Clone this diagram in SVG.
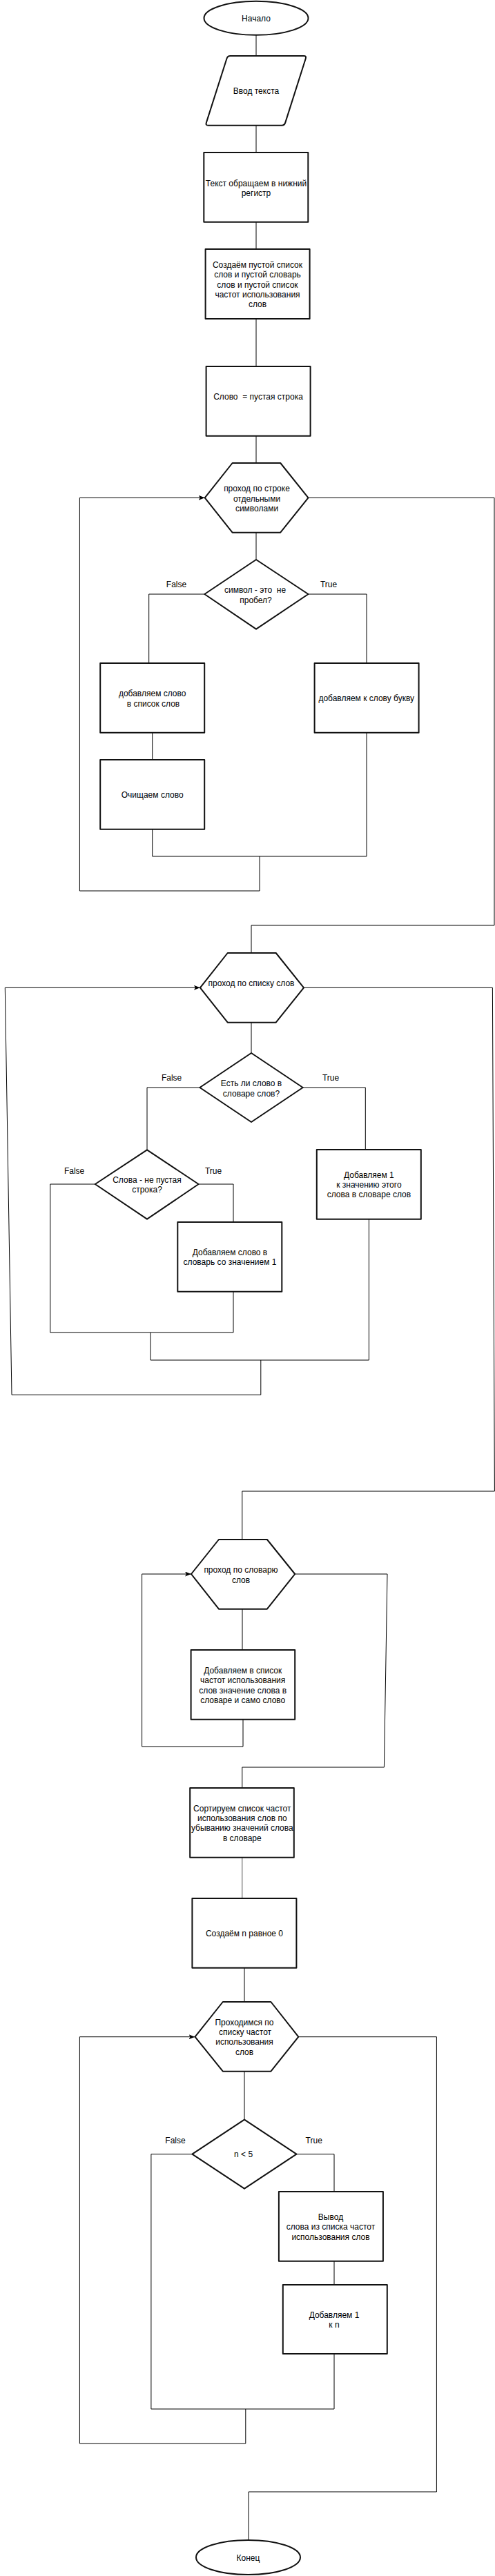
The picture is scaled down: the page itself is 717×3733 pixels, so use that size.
<svg xmlns="http://www.w3.org/2000/svg" width="717" height="3733" viewBox="0 0 717 3733">
<defs>
<style>
.s{fill:#fff;stroke:#111;stroke-width:2;stroke-linejoin:round}
.c{fill:none;stroke:#000;stroke-width:1}
.t{font-family:"Liberation Sans",Arial,sans-serif;font-size:12px;fill:#000;text-anchor:middle;white-space:pre}
</style>
<marker id="ar" markerUnits="userSpaceOnUse" markerWidth="10" markerHeight="8" refX="9" refY="3.5" orient="auto">
<path d="M0,0 L9,3.5 L0,7 L2,3.5 Z" fill="#000"/>
</marker>
</defs>
<rect width="717" height="3733" fill="#fff"/>
<g id="connectors">
<path class="c" d="M371,51 V81"/>
<path class="c" d="M371,181.7 V221"/>
<path class="c" d="M371,321.7 V361"/>
<path class="c" d="M371,462 V531"/>
<path class="c" d="M371,631.7 V671"/>
<path class="c" d="M371,771.7 V811"/>
<path class="c" d="M296.3,861 H215.7 V961"/>
<path class="c" d="M446.5,861 H531 V961"/>
<path class="c" d="M220.7,1061.7 V1101"/>
<path class="c" d="M220.7,1201.7 V1241 H531 V1061.7"/>
<path class="c" d="M376,1241 V1291 H115.4 V721.3 H296.7" marker-end="url(#ar)"/>
<path class="c" d="M446.5,721.3 H716 V1341 H364 V1381"/>
<path class="c" d="M364,1481.7 V1526"/>
<path class="c" d="M289.4,1576 H213 V1666.3"/>
<path class="c" d="M438.7,1576 H529.3 V1666"/>
<path class="c" d="M137.8,1716 H72.8 V1931 H338 V1871.7"/>
<path class="c" d="M287.6,1716 H338 V1771"/>
<path class="c" d="M218,1931 V1971 H534.4 V1766.7"/>
<path class="c" d="M377.8,1971 V2021.3 H17 L7.3,1431.3 H289.9" marker-end="url(#ar)"/>
<path class="c" d="M440,1431.3 H713.4 L716.4,2161 H350.8 V2231"/>
<path class="c" d="M351,2331.7 V2391"/>
<path class="c" d="M352,2491.7 V2531 H205.6 V2281 H277" marker-end="url(#ar)"/>
<path class="c" d="M427.2,2281 H561 L556.4,2561 H350.8 V2591"/>
<path class="c" d="M350.8,2691.7 V2751" style="stroke:#555"/>
<path class="c" d="M354,2851.7 V2901"/>
<path class="c" d="M354,3001.7 V3071.7"/>
<path class="c" d="M278.4,3121.7 H218.9 V3491 H484 V3411"/>
<path class="c" d="M429.5,3121.7 H484 V3176"/>
<path class="c" d="M484,3276.7 V3311"/>
<path class="c" d="M355.8,3491 V3541 H115.4 V2951.7 H282.5" marker-end="url(#ar)"/>
<path class="c" d="M432.3,2951.7 H632.4 V3611 H360 V3681"/>
</g>
<g id="labels">
<text class="t" x="255.5" y="850.7">False</text>
<text class="t" x="476" y="850.7">True</text>
<text class="t" x="248.6" y="1565.7">False</text>
<text class="t" x="479" y="1565.7">True</text>
<text class="t" x="107.6" y="1700.7">False</text>
<text class="t" x="309" y="1700.7">True</text>
<text class="t" x="254" y="3105.7">False</text>
<text class="t" x="454.7" y="3105.7">True</text>
</g>
<g id="start">
<ellipse class="s" cx="371" cy="26.3" rx="75.5" ry="24.5"/>
<text class="t" x="371" y="30.7">Начало</text>
</g>
<g id="input">
<path class="s" d="M333.7,81 H440 Q444,81 442.8,84.8 L413.2,177.9 Q412,181.7 408,181.7 H301.6 Q297.6,181.7 298.8,177.9 L328.5,84.8 Q329.7,81 333.7,81 Z"/>
<text class="t" x="371" y="136">Ввод текста</text>
</g>
<g id="lower">
<rect class="s" x="295.3" y="221" width="151" height="100.7"/>
<text class="t" x="371" y="269.7">Текст обращаем в нижний</text>
<text class="t" x="371" y="284">регистр</text>
</g>
<g id="create">
<rect class="s" x="297.6" y="361" width="151" height="101"/>
<text class="t" x="373" y="388">Создаём пустой список</text>
<text class="t" x="373" y="402.3">слов и пустой словарь</text>
<text class="t" x="373" y="416.6">слов и пустой список</text>
<text class="t" x="373" y="430.9">частот использования</text>
<text class="t" x="373" y="445.2">слов</text>
</g>
<g id="word-empty">
<rect class="s" x="298.6" y="531" width="151" height="100.7"/>
<text class="t" x="374" y="579">Слово  = пустая строка</text>
</g>
<g id="loop1">
<polygon class="s" points="336.6,671 406.2,671 446.5,721.3 406.2,771.7 336.6,771.7 296.7,721.3"/>
<text class="t" x="372" y="712.3">проход по строке</text>
<text class="t" x="372" y="726.7">отдельными</text>
<text class="t" x="372" y="741.1">символами</text>
</g>
<g id="dec1">
<polygon class="s" points="371,811 446.5,861 371,911.7 296.3,861"/>
<text class="t" x="369.5" y="859">символ - это  не</text>
<text class="t" x="370.5" y="874">пробел?</text>
</g>
<g id="add-word">
<rect class="s" x="145.2" y="961" width="151" height="100.7"/>
<text class="t" x="220.7" y="1009">добавляем слово</text>
<text class="t" x="222" y="1024">в список слов</text>
</g>
<g id="add-letter">
<rect class="s" x="455.6" y="961" width="151" height="100.7"/>
<text class="t" x="530.7" y="1016.3">добавляем к слову букву</text>
</g>
<g id="clear-word">
<rect class="s" x="145.2" y="1101" width="151" height="100.7"/>
<text class="t" x="220.7" y="1155.7">Очищаем слово</text>
</g>
<g id="loop2">
<polygon class="s" points="329.7,1381 399.7,1381 440,1431.3 399.7,1481.7 329.7,1481.7 289.9,1431.3"/>
<text class="t" x="364" y="1429">проход по списку слов</text>
</g>
<g id="dec2">
<polygon class="s" points="364,1526 438.7,1576 364,1626 289.4,1576"/>
<text class="t" x="364" y="1574">Есть ли слово в</text>
<text class="t" x="364" y="1588.7">словаре слов?</text>
</g>
<g id="inc-word">
<rect class="s" x="458.8" y="1666" width="151" height="100.7"/>
<text class="t" x="534.4" y="1706.7">Добавляем 1</text>
<text class="t" x="534.4" y="1721">к значению этого</text>
<text class="t" x="534.4" y="1735.4">слова в словаре слов</text>
</g>
<g id="dec3">
<polygon class="s" points="213,1666.3 287.6,1716 213,1766.7 137.8,1716"/>
<text class="t" x="213" y="1714">Слова - не пустая</text>
<text class="t" x="213" y="1728">строка?</text>
</g>
<g id="add-dict">
<rect class="s" x="257.3" y="1771" width="151" height="100.7"/>
<text class="t" x="333" y="1819">Добавляем слово в</text>
<text class="t" x="333" y="1833.4">словарь со значением 1</text>
</g>
<g id="loop3">
<polygon class="s" points="316.9,2231 386.9,2231 427.2,2281 386.9,2331.7 316.9,2331.7 277,2281"/>
<text class="t" x="349" y="2279.3">проход по словарю</text>
<text class="t" x="349" y="2293.7">слов</text>
</g>
<g id="add-freq">
<rect class="s" x="276.6" y="2391" width="150.6" height="100.7"/>
<text class="t" x="351.7" y="2425">Добавляем в список</text>
<text class="t" x="351.7" y="2439.4">частот использования</text>
<text class="t" x="351.7" y="2453.8">слов значение слова в</text>
<text class="t" x="351.7" y="2468.2">словаре и само слово</text>
</g>
<g id="sort">
<rect class="s" x="275.2" y="2591" width="150.6" height="100.7"/>
<text class="t" x="350.8" y="2624.7">Сортируем список частот</text>
<text class="t" x="350.8" y="2639">использования слов по</text>
<text class="t" x="350.8" y="2653.4">убыванию значений слова</text>
<text class="t" x="350.8" y="2667.8">в словаре</text>
</g>
<g id="create-n">
<rect class="s" x="278.4" y="2751" width="151" height="100.7"/>
<text class="t" x="354" y="2805.7">Создаём n равное 0</text>
</g>
<g id="loop4">
<polygon class="s" points="322.8,2901 392.4,2901 432.3,2951.7 392.4,3001.7 322.8,3001.7 282.5,2951.7"/>
<text class="t" x="354" y="2934.7">Проходимся по</text>
<text class="t" x="355" y="2949">списку частот</text>
<text class="t" x="354" y="2963.4">использования</text>
<text class="t" x="354" y="2977.8">слов</text>
</g>
<g id="dec4">
<polygon class="s" points="354,3071.7 429.5,3121.7 354,3171.7 278.4,3121.7"/>
<text class="t" x="352.6" y="3125.7">n &lt; 5</text>
</g>
<g id="output">
<rect class="s" x="403.9" y="3176" width="151" height="100.7"/>
<text class="t" x="479" y="3216.7">Вывод</text>
<text class="t" x="479" y="3231.1">слова из списка частот</text>
<text class="t" x="479" y="3245.5">использования слов</text>
</g>
<g id="inc-n">
<rect class="s" x="409.8" y="3311" width="151" height="100"/>
<text class="t" x="484" y="3359">Добавляем 1</text>
<text class="t" x="484" y="3373.4">к n</text>
</g>
<g id="end">
<ellipse class="s" cx="359.5" cy="3706" rx="75.5" ry="25"/>
<text class="t" x="359.5" y="3710.7">Конец</text>
</g>
</svg>
